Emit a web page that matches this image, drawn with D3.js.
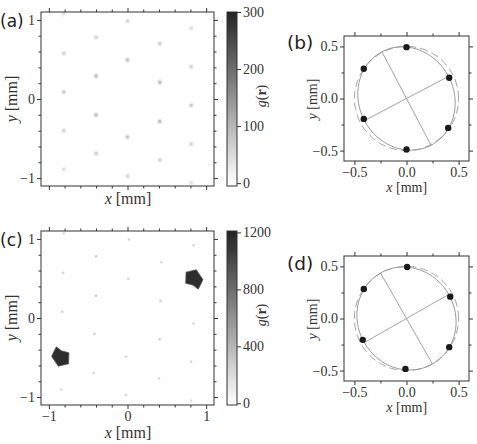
<!DOCTYPE html>
<html><head><meta charset="utf-8">
<script src="https://cdn.jsdelivr.net/npm/d3@7"></script>
<style>body{margin:0;background:#fff}svg{display:block}</style>
</head><body>
<script>
// ---------- DATA ----------
// (a) pair-correlation spots: [x mm, y mm, g]
const spotsA = [
  [-0.81, 1.076, 40], [0.00, 0.987, 60], [0.81, 0.895, 45],
  [-0.40, 0.780, 65], [0.41, 0.700, 70],
  [-0.81, 0.578, 60], [0.00, 0.494, 85], [0.81, 0.409, 65],
  [-0.40, 0.291, 95], [0.41, 0.211, 95],
  [-0.81, 0.089, 75], [0.81, -0.080, 75],
  [-0.40, -0.203, 95], [0.41, -0.283, 95],
  [-0.81, -0.401, 65], [0.00, -0.481, 85], [0.81, -0.570, 60],
  [-0.40, -0.688, 70], [0.41, -0.772, 65],
  [-0.81, -0.890, 45], [0.00, -0.975, 60], [0.81, -1.059, 40]
];
// (c) spots and the two strong peaks
const spotsC = [
  [-0.81, 1.067, 230], [0.02, 0.991, 260], [0.84, 0.919, 260],
  [-0.40, 0.780, 260], [0.43, 0.704, 260],
  [-0.82, 0.570, 260], [0.01, 0.497, 260],
  [-0.40, 0.282, 280], [0.42, 0.219, 280],
  [-0.83, 0.080, 260], [0.84, -0.068, 260],
  [-0.42, -0.203, 280], [0.41, -0.270, 280],
  [-0.02, -0.486, 260], [0.81, -0.553, 260],
  [-0.43, -0.696, 260], [0.40, -0.764, 260],
  [-0.84, -0.907, 260], [-0.02, -0.975, 260], [0.81, -1.047, 230]
];
const peaksC = [[-0.855, -0.485, 1150], [0.85, 0.485, 1150]];
// outline of the upper-right peak, offsets in mm (lower-left peak is its point reflection)
const peakShape = [[-0.105, 0.095], [0.025, 0.125], [0.11, 0.0], [0.05, -0.12], [-0.015, -0.07], [-0.11, -0.045]];

// (b) and (d) nearest-neighbour positions
const ptsB = [[0.00, 0.493], [0.41, 0.199], [0.40, -0.282], [0.00, -0.490], [-0.41, -0.196], [-0.41, 0.285]];
const ptsD = [[0.006, 0.494], [0.42, 0.210], [0.41, -0.275], [-0.01, -0.484], [-0.42, -0.205], [-0.41, 0.283]];
// fitted ellipses: semi-axes (mm) and major-axis angle (deg)
const ellB = {a: 0.507, b: 0.456, angle: 117.7};
const ellD = {a: 0.503, b: 0.467, angle: 119.7};
const circleR = 0.5;

// ticks
const bigMajor = [-1, 0, 1];
const bigMinor = [-0.8, -0.6, -0.4, -0.2, 0.2, 0.4, 0.6, 0.8];
const smallMajor = [-0.5, 0, 0.5];
const smallMinor = [-0.25, 0.25];
const cbTicksA = [0, 100, 200, 300];
const cbTicksC = [0, 400, 800, 1200];

// ---------- DRAW ----------
const W = 477, H = 444;
const svg = d3.select("body").append("svg").attr("width", W).attr("height", H);
const SERIF = "'Liberation Serif', 'DejaVu Serif', serif";
const SANS = "'DejaVu Sans', sans-serif";
const INK = "#333";
const minus = s => s.replace("-", "\u2212");

function axes(g, x, y, o) {
  const fmt = o.fmt;
  const sides = [
    [d3.axisLeft(y), `translate(${x.range()[0]},0)`, o.ylab],
    [d3.axisBottom(x), `translate(0,${y.range()[0]})`, o.xlab],
    [d3.axisTop(x), `translate(0,${y.range()[1]})`, false],
    [d3.axisRight(y), `translate(${x.range()[1]},0)`, false]
  ];
  sides.forEach(([ax, tr, lab]) => {
    const gMaj = g.append("g").attr("transform", tr)
      .call(ax.tickValues(o.major).tickSize(4).tickPadding(2)
        .tickFormat(lab ? fmt : () => ""));
    gMaj.select(".domain").remove();
    gMaj.selectAll("text").attr("font-family", SERIF).attr("font-size", o.fs).attr("fill", INK);
    gMaj.selectAll("line").attr("stroke", INK);
    const gMin = g.append("g").attr("transform", tr)
      .call(ax.tickValues(o.minor).tickSize(2.5).tickFormat(() => ""));
    gMin.select(".domain").remove();
    gMin.selectAll("line").attr("stroke", INK);
  });
  g.append("rect").attr("x", x.range()[0]).attr("y", y.range()[1])
    .attr("width", x.range()[1] - x.range()[0]).attr("height", y.range()[0] - y.range()[1])
    .attr("fill", "none").attr("stroke", INK).attr("stroke-width", 1);
}

function xLabel(g, cx, by, fs) {
  const t = g.append("text").attr("x", cx).attr("y", by).attr("text-anchor", "middle")
    .attr("font-family", SERIF).attr("font-size", fs).attr("fill", INK);
  t.append("tspan").attr("font-style", "italic").text("x");
  t.append("tspan").text(" [mm]");
}
function yLabel(g, bx, cy, fs) {
  const t = g.append("text").attr("transform", `translate(${bx},${cy}) rotate(-90)`)
    .attr("text-anchor", "middle").attr("font-family", SERIF).attr("font-size", fs).attr("fill", INK);
  t.append("tspan").attr("font-style", "italic").text("y");
  t.append("tspan").text(" [mm]");
}
function panelLabel(txt, x, y, fs) {
  svg.append("text").attr("x", x).attr("y", y).attr("font-family", SANS)
    .attr("font-size", fs).attr("fill", "#222").text(txt);
}

let gradN = 0;
function colorbar(x0, x1, yr, dom, ticks, color, labelY) {
  const cy = d3.scaleLinear().domain(dom).range(yr);
  const id = "cbg" + (gradN++);
  const grad = svg.append("defs").append("linearGradient").attr("id", id)
    .attr("x1", 0).attr("y1", 1).attr("x2", 0).attr("y2", 0);
  d3.range(0, 1.0001, 0.1).forEach(f => {
    const v = dom[0] + f * (dom[1] - dom[0]);
    grad.append("stop").attr("offset", f).attr("stop-color", color(Math.max(0, v)));
  });
  svg.append("rect").attr("x", x0).attr("y", yr[1]).attr("width", x1 - x0)
    .attr("height", yr[0] - yr[1]).attr("fill", `url(#${id})`)
    .attr("stroke", INK).attr("stroke-width", 1);
  const ga = svg.append("g").attr("transform", `translate(${x1},0)`)
    .call(d3.axisRight(cy).tickValues(ticks).tickSize(4).tickPadding(2).tickFormat(d3.format("d")));
  ga.select(".domain").remove();
  ga.selectAll("line").attr("stroke", INK);
  ga.selectAll("text").attr("font-family", SERIF).attr("font-size", 14).attr("fill", INK);
  const t = svg.append("text").attr("transform", `translate(266,${labelY}) rotate(-90)`)
    .attr("text-anchor", "middle").attr("font-family", SERIF).attr("font-size", 14).attr("fill", INK);
  t.append("tspan").attr("font-style", "italic").text("g");
  t.append("tspan").text("(");
  t.append("tspan").attr("font-weight", "bold").text("r");
  t.append("tspan").text(")");
}

// ----- heatmap panels (a), (c)
function heatPanel(yTop, spots, maxG, cbDom, cbTicks, showXTicks, letter, spotR, haloR) {
  const x = d3.scaleLinear().domain([-1.1, 1.1]).range([41, 214]);
  const y = d3.scaleLinear().domain([-1.1, 1.1]).range([yTop + 174, yTop]);
  const color = d3.scaleLinear().domain([0, maxG]).range(["#ffffff", "#242424"]).clamp(true);
  const g = svg.append("g");
  g.append("defs").append("clipPath").attr("id", "clip" + letter)
    .append("rect").attr("x", 41).attr("y", yTop).attr("width", 173).attr("height", 174);
  const plot = g.append("g").attr("clip-path", `url(#clip${letter})`);
  plot.selectAll("circle.halo").data(spots).join("circle").attr("class", "halo")
    .attr("cx", d => x(d[0])).attr("cy", d => y(d[1])).attr("r", haloR)
    .attr("fill", d => color(d[2] * 0.3));
  plot.selectAll("circle.core").data(spots).join("circle").attr("class", "core")
    .attr("cx", d => x(d[0])).attr("cy", d => y(d[1])).attr("r", spotR)
    .attr("fill", d => color(d[2]));
  axes(g, x, y, {major: bigMajor, minor: bigMinor, fs: 14,
    fmt: d => minus(d3.format("d")(d)), ylab: true, xlab: showXTicks});
  colorbar(227, 237, [yTop + 174, yTop], cbDom, cbTicks, color, yTop + 84);
  return {x, y, color, plot};
}

const A = heatPanel(12, spotsA, 300, [-5, 300], cbTicksA, false, "a", 1.4, 3.0);
xLabel(svg, 128, 204, 16);
yLabel(svg, 17, 99, 16);
panelLabel("(a)", 0, 26.5, 17);

const C = heatPanel(231, spotsC, 1200, [-12, 1210], cbTicksC, true, "c", 1.0, 1.8);
C.plot.selectAll("path.peak").data(peaksC).join("path").attr("class", "peak")
  .attr("d", (d, i) => {
    const s = d[0] > 0 ? 1 : -1;
    return d3.line()(peakShape.map(p => [C.x(d[0] + s * p[0]), C.y(d[1] + s * p[1])])) + "Z";
  })
  .attr("fill", d => C.color(d[2])).attr("stroke", d => C.color(d[2] * 0.8)).attr("stroke-width", 0.8);
xLabel(svg, 128, 438, 16);
yLabel(svg, 17, 318, 16);
panelLabel("(c)", 0, 246, 17);

// ----- scatter panels (b), (d)
function ringPanel(yTop, pts, ell, letter, labelBase) {
  const x = d3.scaleLinear().domain([-0.6, 0.6]).range([344, 469]);
  const y = d3.scaleLinear().domain([-0.6, 0.6]).range([yTop + 125, yTop]);
  const g = svg.append("g");
  const th = ell.angle * Math.PI / 180;
  const ux = Math.cos(th), uy = Math.sin(th), vx = -uy, vy = ux;
  const ellPts = d3.range(0, 361, 3).map(t => {
    const r = t * Math.PI / 180;
    return [x(ell.a * Math.cos(r) * ux + ell.b * Math.sin(r) * vx),
            y(ell.a * Math.cos(r) * uy + ell.b * Math.sin(r) * vy)];
  });
  const circPts = d3.range(0, 361, 3).map(t => {
    const r = t * Math.PI / 180;
    return [x(circleR * Math.cos(r)), y(circleR * Math.sin(r))];
  });
  g.append("path").attr("d", d3.line()(circPts)).attr("fill", "none")
    .attr("stroke", "#999").attr("stroke-width", 0.9).attr("stroke-dasharray", "8,4");
  g.append("path").attr("d", d3.line()(ellPts)).attr("fill", "none")
    .attr("stroke", "#999").attr("stroke-width", 1);
  // axes of ellipse
  [[ell.a, ux, uy], [ell.b, vx, vy]].forEach(([L, dx, dy]) => {
    g.append("line").attr("x1", x(-L * dx)).attr("y1", y(-L * dy))
      .attr("x2", x(L * dx)).attr("y2", y(L * dy))
      .attr("stroke", "#999").attr("stroke-width", 0.9);
  });
  g.selectAll("circle.pt").data(pts).join("circle").attr("class", "pt")
    .attr("cx", d => x(d[0])).attr("cy", d => y(d[1])).attr("r", 3.2).attr("fill", "#1a1a1a");
  axes(g, x, y, {major: smallMajor, minor: smallMinor, fs: 14,
    fmt: d => minus(d3.format(".1f")(d)), ylab: true, xlab: true});
  xLabel(svg, 406.7, yTop + 156, 14);
  yLabel(svg, 316.5, yTop + 63, 14);
  panelLabel(letter, 287, labelBase, 18.5);
}
ringPanel(36, ptsB, ellB, "(b)", 49);
ringPanel(256, ptsD, ellD, "(d)", 270);
</script>
</body></html>
